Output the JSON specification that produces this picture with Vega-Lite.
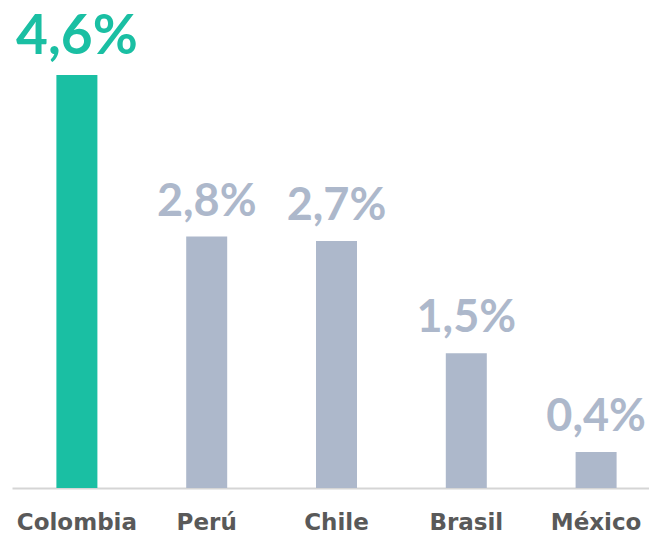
{
  "$schema": "https://vega.github.io/schema/vega-lite/v6.json",
  "width": 649,
  "height": 488,
  "autosize": {"type": "none"},
  "padding": {"top": 0, "left": 0, "right": 0, "bottom": 51},
  "background": "white",
  "config": {"view": {"stroke": null}},
  "data": {"values": [
    {"pais": "Colombia", "valor": 4.6, "etiqueta": "4,6%"},
    {"pais": "Perú", "valor": 2.8, "etiqueta": "2,8%"},
    {"pais": "Chile", "valor": 2.75, "etiqueta": "2,7%"},
    {"pais": "Brasil", "valor": 1.5, "etiqueta": "1,5%"},
    {"pais": "México", "valor": 0.4, "etiqueta": "0,4%"}
  ]},
  "encoding": {
    "x": {"field": "pais", "type": "nominal", "sort": null,
      "scale": {"range": [12, 661], "paddingInner": 0, "paddingOuter": 0},
      "axis": {"title": null, "labelAngle": 0, "ticks": false, "domainColor": "#D5D5D5", "domainWidth": 2,
        "labelFont": "DejaVu Sans", "labelFontWeight": "bold", "labelFontSize": 23, "labelColor": "#595959", "labelPadding": 23}},
    "y": {"field": "valor", "type": "quantitative",
      "scale": {"domain": [0, 5.434], "nice": false, "zero": true},
      "axis": null}
  },
  "layer": [
    {"mark": {"type": "bar", "width": 41},
      "encoding": {"color": {"condition": {"test": "datum.pais === 'Colombia'", "value": "#1ABFA3"}, "value": "#ADB8CB"}}},
    {"mark": {"type": "text", "font": "Lato", "fontWeight": "bold", "baseline": "alphabetic", "align": "center", "dy": -21},
      "encoding": {"text": {"field": "etiqueta"},
        "size": {"condition": {"test": "datum.pais === 'Colombia'", "value": 55}, "value": 45},
        "color": {"condition": {"test": "datum.pais === 'Colombia'", "value": "#1ABFA3"}, "value": "#ADB8CB"}}}
  ]
}
